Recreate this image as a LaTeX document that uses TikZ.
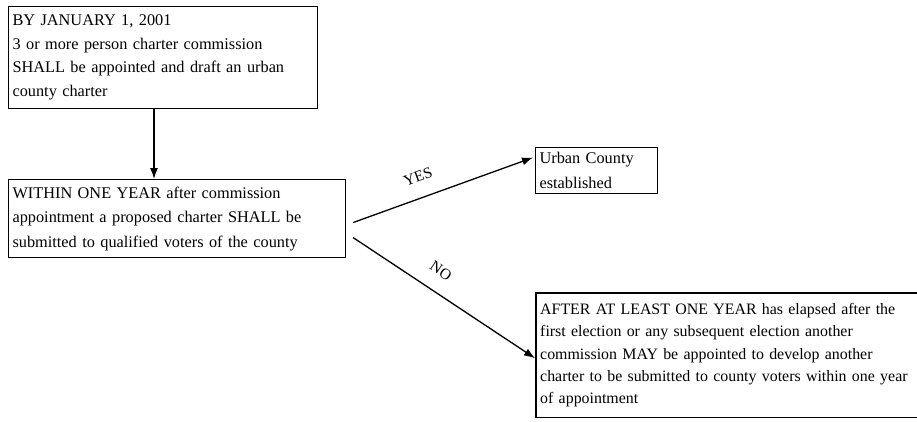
\documentclass[tikz,border=0pt]{standalone}
\usepackage{fontspec}
\setmainfont{Liberation Serif}
\usetikzlibrary{arrows.meta,calc}
\begin{document}
\begin{tikzpicture}[x=1pt,y=-1pt,
  box/.style={draw, line width=1.1pt, anchor=north west, align=left, inner xsep=4pt, inner ysep=2pt},
  arr/.style={line width=1.3pt, -{Latex[length=11pt,width=8pt]}},
  lbl/.style={font=\fontsize{15.5}{18}\selectfont, sloped, above, inner sep=15pt}]
\useasboundingbox (0,0) rectangle (917,421);
\node[box, font=\fontsize{16.3}{23.5}\selectfont, text width=301pt, minimum height=102pt] (b1) at (8,6)
  {BY JANUARY 1, 2001\\3 or more person charter commission\\SHALL be appointed and draft an urban\\county charter};
\node[box, font=\fontsize{16.3}{24.5}\selectfont, text width=329pt, minimum height=78pt] (b2) at (8,179)
  {WITHIN ONE YEAR after commission\\appointment a proposed charter SHALL be\\submitted to qualified voters of the county};
\node[box, font=\fontsize{16.3}{25}\selectfont, text width=114pt, minimum height=46pt] (b3) at (535,147)
  {Urban County\\established};
\node[anchor=north west, align=left, inner xsep=4pt, inner ysep=2pt, font=\fontsize{15.9}{22.2}\selectfont, text width=400pt, minimum height=124pt] (b4) at (536,293)
  {AFTER AT LEAST ONE YEAR has elapsed after the\\first election or any subsequent election another\\commission MAY be appointed to develop another\\charter to be submitted to county voters within one year\\of appointment};
\draw[line width=1.1pt] (b4.north east) -- (b4.north west) -- (b4.south west) -- (b4.south east);
\coordinate (a) at (154,0);
\draw[arr] (b1.south -| a) -- (b2.north -| a);
\coordinate (ys) at ($(b2.east)+(7,4)$);
\coordinate (ns) at ($(b2.east)+(7,19)$);
\coordinate (ye) at ($(b3.west)+(-2,-13)$);
\coordinate (ne) at ($(b4.west)+(-1,3)$);
\draw[arr] (ys) -- node[lbl, pos=0.4] {YES} (ye);
\draw[arr] (ns) -- node[lbl, pos=0.42] {NO} (ne);
\end{tikzpicture}
\end{document}
